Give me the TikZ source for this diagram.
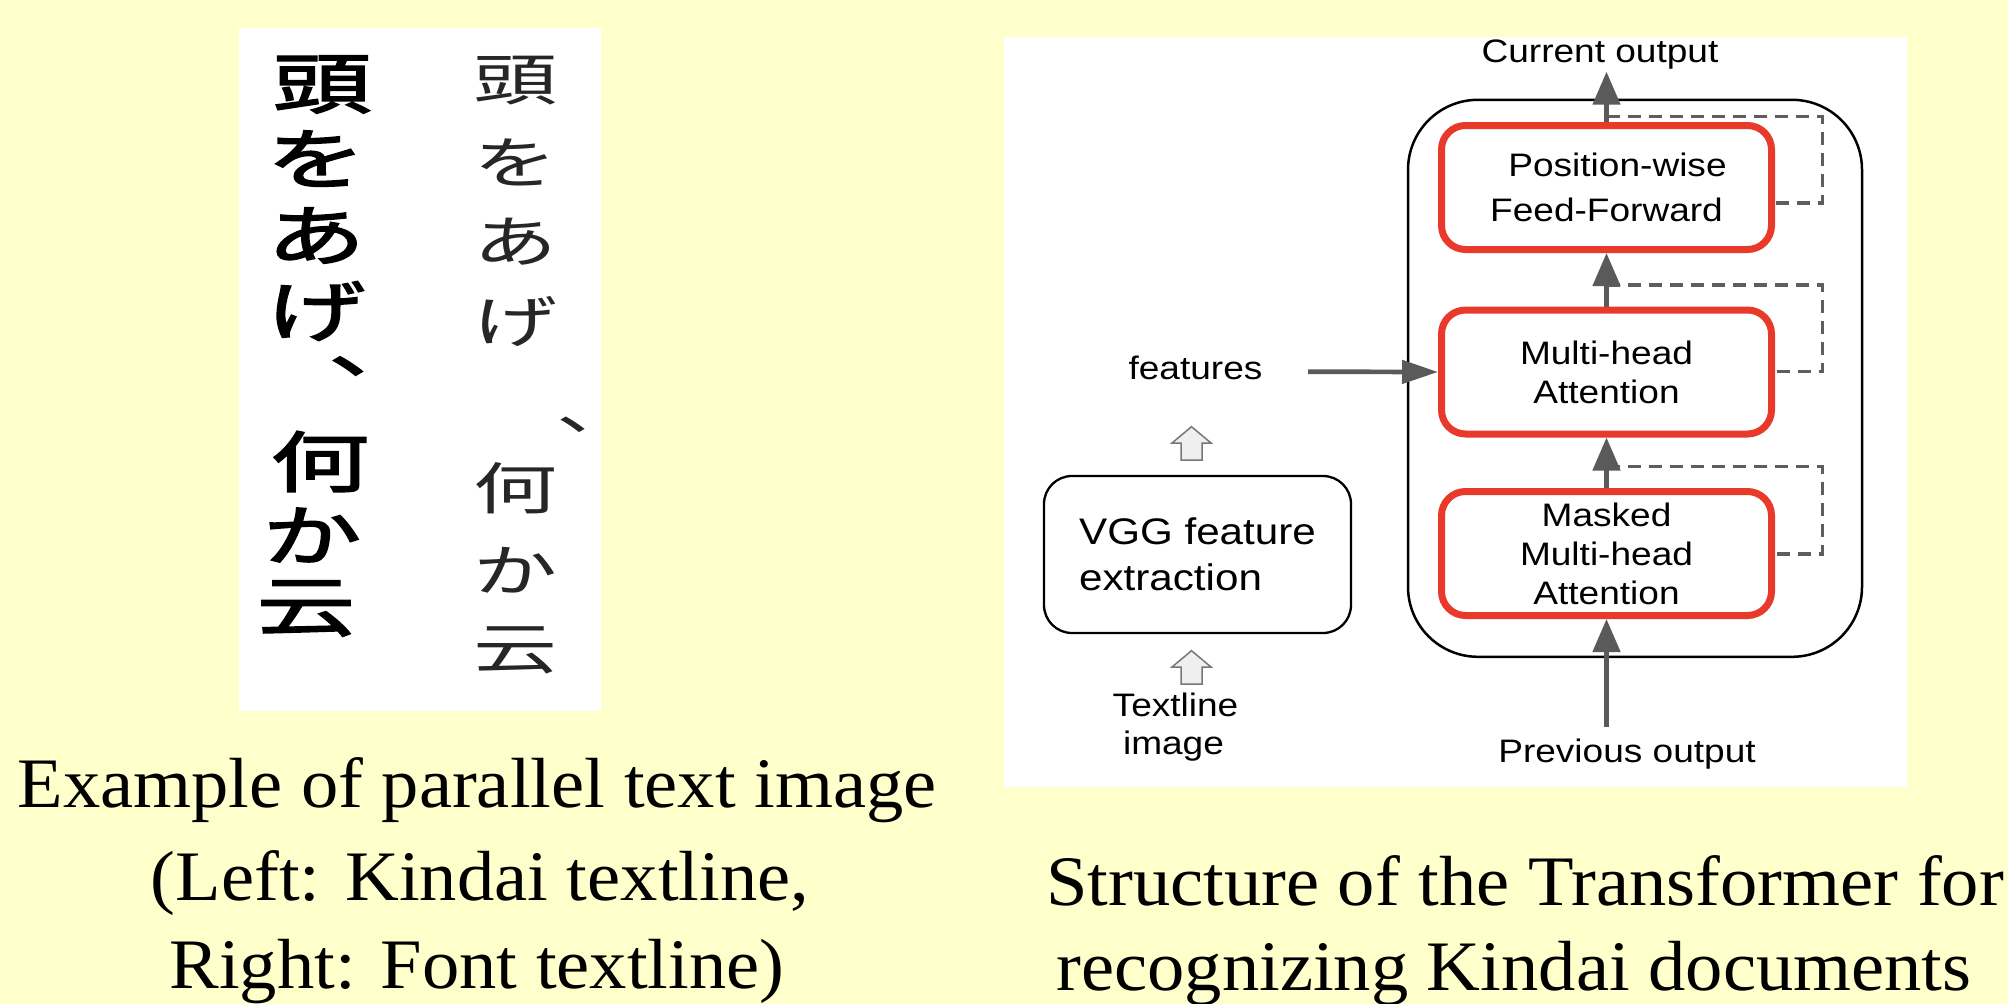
\documentclass[tikz,border=0pt]{standalone}
\usepackage{fontspec}
\setmainfont{Liberation Serif}
\newfontfamily\capfont[FakeStretch=1.05]{Liberation Serif}
\newfontfamily\dgfont[FakeStretch=1.14]{Liberation Sans}
\newfontfamily\jpfont[FakeStretch=1.5]{Noto Sans CJK JP}
\newfontfamily\kdfont[FakeStretch=1.5,FakeBold=2.5]{Noto Sans CJK JP}
\usetikzlibrary{arrows.meta,calc}
\definecolor{bgyellow}{HTML}{FFFFCC}
\definecolor{boxred}{HTML}{E8392A}
\definecolor{arrowgray}{HTML}{5A5A5A}
\definecolor{dashgray}{HTML}{5E5E5E}
\definecolor{hollowfill}{HTML}{EFEFEF}
\definecolor{hollowline}{HTML}{777777}
\begin{document}
\begin{tikzpicture}[x=1pt,y=-1pt,
  caption/.style={font=\capfont\fontsize{71}{85}\selectfont, anchor=base, inner sep=0pt},
  dglabel/.style={font=\dgfont\fontsize{32.5}{39}\selectfont, anchor=base, inner sep=0pt},
  redbox/.style={draw=boxred, line width=7pt, rounded corners=24pt, fill=white,
    minimum width=330pt, minimum height=124pt, inner sep=0pt, align=center,
    font=\dgfont\fontsize{32.5}{39}\selectfont},
  jpchar/.style={font=\jpfont\fontsize{56}{56}\selectfont, inner sep=0pt, anchor=center, text=black!85},
  kdchar/.style={font=\kdfont\fontsize{66}{66}\selectfont, inner sep=0pt, anchor=center},
  garrow/.style={draw=arrowgray, line width=4.7pt, -{Triangle[width=27pt,length=33pt]}},
  garrowh/.style={draw=arrowgray, line width=4.7pt, -{Triangle[width=23pt,length=36pt]}},
  resid/.style={draw=dashgray, line width=3.2pt, dash pattern=on 13pt off 8pt},
  hollowup/.pic={\draw[hollowline, fill=hollowfill, line width=1.5pt, line join=miter]
    (0,0) -- (19.5,16.3) -- (10.5,16.3) -- (10.5,33.3) -- (-10.5,33.3) -- (-10.5,16.3) -- (-19.5,16.3) -- cycle;}
]
\useasboundingbox (0,0) rectangle (2008,1004);
\fill[bgyellow] (0,0) rectangle (2008,1004);

% left panel
\fill[white] (239,28) rectangle (601,711);
\node[kdchar] (k1) at (322,84.5) {頭};
\node[kdchar] (k2) at (316,158.5) {を};
\node[kdchar] (k3) at (316,235.5) {あ};
\node[kdchar] (k4) at (316,311) {げ};
\node[kdchar] (k5) at (378,366) {、};
\node[kdchar] (k6) at (320,461.5) {何};
\node[kdchar] (k7) at (312,535) {か};
\node[kdchar] (k8) at (306,608.5) {云};

\node[jpchar] (f1) at (515,81) {頭};
\node[jpchar] (f2) at (515,162.5) {を};
\node[jpchar] (f3) at (515,242) {あ};
\node[jpchar] (f4) at (515,321.5) {げ};
\node[jpchar] (f5) at (598,425) {、};
\node[jpchar] (f6) at (515,488.5) {何};
\node[jpchar] (f7) at (515,570) {か};
\node[jpchar] (f8) at (515,650) {云};

% right panel
\fill[white] (1004,37) rectangle (1907,787);

\coordinate (r1s) at (1606.5,116.7);
\coordinate (r1c) at (1822.7,203);
\coordinate (r2s) at (1606.5,285);
\coordinate (r2c) at (1822.7,371.7);
\coordinate (r3s) at (1606.5,466.7);
\coordinate (r3c) at (1822.7,554);

\node[draw=black, line width=2.5pt, rounded corners=70pt, minimum width=454pt,
  minimum height=557pt, inner sep=0pt] (dec) at (1635,378.3) {};

\node[redbox] (pff) at (1606.5,187.5) {\hspace*{22pt}Position-wise\\[6pt]Feed-Forward};
\node[redbox] (mha) at (1606.5,372) {Multi-head\\Attention};
\node[redbox] (mmha) at (1606.5,553.5) {Masked\\Multi-head\\Attention};

\draw[resid] (r1s) -| (r1c) -- (pff.east |- r1c);
\draw[resid] (r2s) -| (r2c) -- (mha.east |- r2c);
\draw[resid] (r3s) -| (r3c) -- (mmha.east |- r3c);

\node[draw=black, line width=2.3pt, rounded corners=28pt, minimum width=307pt,
  minimum height=157pt, inner sep=0pt, align=left,
  font=\dgfont\fontsize{37}{46}\selectfont] (vgg) at (1197.5,554.5) {VGG feature\\extraction};

\node[dglabel] (curout) at (1600,62.7) {Current output};
\node[dglabel] (prevout) at (1627,762.7) {Previous output};
\node[dglabel] (feat) at (1195.5,379.3) {features};
\node[dglabel] (tl1) at (1175.5,716) {Textline};
\node[dglabel] (tl2) at (1173.5,754) {image};

\pic at (1191.5,426.7) {hollowup};
\pic at (1191.5,650.7) {hollowup};

\coordinate (cotip) at (1606.5,71.7);
\coordinate (prevstart) at (1606.5,727);
\coordinate (featstart) at (1308,371.7);
\draw[garrow] (pff.north) -- (cotip);
\draw[garrow] (mha.north) -- (pff.south);
\draw[garrow] (mmha.north) -- (mha.south);
\draw[garrow] (prevstart) -- (mmha.south);
\draw[garrowh] (featstart) -- (mha.west);

% captions
\node[caption] (capl1) at (477,807.3) {Example of parallel text image};
\node[caption] (capl2) at (480,900) {(Left: Kindai textline,};
\node[caption] (capl3) at (477,988) {Right: Font textline)};
\node[caption] (capr1) at (1525,905) {Structure of the Transformer for};
\node[caption] (capr2) at (1514,990.7) {recognizing Kindai documents};
\end{tikzpicture}
\end{document}
